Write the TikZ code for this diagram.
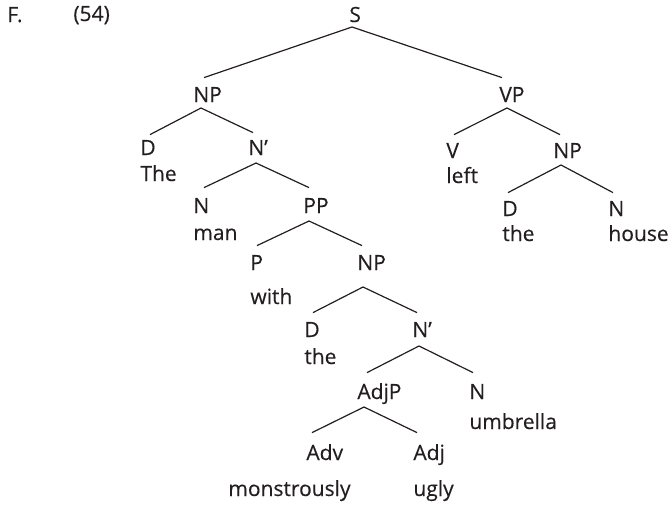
\documentclass[tikz,border=0pt]{standalone}
\usepackage{fontspec}
\setmainfont{Open Sans}[FakeBold=0.3]
\definecolor{ink}{RGB}{35,31,32}
\begin{document}
\begin{tikzpicture}[x=0.5pt,y=-0.5pt,
  lab/.style={anchor=base west, inner sep=0pt, text height=7.5pt, text depth=0pt,
    font=\fontsize{10.5}{12}\selectfont, text=ink},
  wrd/.style={anchor=base west, inner sep=0pt, font=\fontsize{10.5}{12}\selectfont, text=ink},
  br/.style={draw=ink, line width=0.6pt}]
\useasboundingbox (0,0) rectangle (668,504);
% header
\node[wrd] (F) at (7,22) {F.};
\node[wrd] (ex) at (73,21) {(54)};
% categories
\node[lab] (S) at (349,22) {S};
\node[lab] (NPa) at (193,102) {NP};
\node[lab] (VP) at (499,102) {VP};
\node[lab] (Da) at (140,155) {D};
\node[lab] (Nba) at (248,155) {N’};
\node[lab] (Na) at (193,213) {N};
\node[lab] (PP) at (303,213) {PP};
\node[lab] (P) at (250,270) {P};
\node[lab] (NPb) at (357,270) {NP};
\node[lab] (Db) at (304,337) {D};
\node[lab] (Nbb) at (412,337) {N’};
\node[lab] (AdjP) at (357,399) {AdjP};
\node[lab] (Nb) at (469,399) {N};
\node[lab] (Adv) at (306,460) {Adv};
\node[lab] (Adj) at (413,460) {Adj};
\node[lab] (V) at (446,158) {V};
\node[lab] (NPc) at (553,158) {NP};
\node[lab] (Dc) at (502,216) {D};
\node[lab] (Nc) at (608,216) {N};
% words
\node[wrd] (wThe) at (140,181) {The};
\node[wrd] (wman) at (193,240) {man};
\node[wrd] (wwith) at (250,304) {with};
\node[wrd] (wthea) at (304,364) {the};
\node[wrd] (wumb) at (469,429) {umbrella};
\node[wrd] (wmon) at (228,496) {monstrously};
\node[wrd] (wugly) at (413,496) {ugly};
\node[wrd] (wleft) at (446,183) {left};
\node[wrd] (wtheb) at (502,241) {the};
\node[wrd] (whouse) at (608,241) {house};
% branches
\draw[br] ([shift={(3,5)}]S.base west) -- ([shift={(11,-9)}]NPa.north west);
\draw[br] ([shift={(3,5)}]S.base west) -- ([shift={(3,-9)}]VP.north west);
\draw[br] ([shift={(8,6)}]NPa.base west) -- ([shift={(10,-5)}]Da.north west);
\draw[br] ([shift={(8,6)}]NPa.base west) -- ([shift={(5,-7)}]Nba.north west);
\draw[br] ([shift={(8,8)}]Nba.base west) -- ([shift={(11,-10)}]Na.north west);
\draw[br] ([shift={(8,8)}]Nba.base west) -- ([shift={(6,-10)}]PP.north west);
\draw[br] ([shift={(6,8)}]PP.base west) -- ([shift={(7,-9)}]P.north west);
\draw[br] ([shift={(6,8)}]PP.base west) -- ([shift={(5,-9)}]NPb.north west);
\draw[br] ([shift={(6,17)}]NPb.base west) -- ([shift={(9,-9)}]Db.north west);
\draw[br] ([shift={(6,17)}]NPb.base west) -- ([shift={(5,-9)}]Nbb.north west);
\draw[br] ([shift={(7,9)}]Nbb.base west) -- ([shift={(10,-11)}]AdjP.north west);
\draw[br] ([shift={(7,9)}]Nbb.base west) -- ([shift={(4,-11)}]Nb.north west);
\draw[br] ([shift={(7,8)}]AdjP.base west) -- ([shift={(6,-12)}]Adv.north west);
\draw[br] ([shift={(7,8)}]AdjP.base west) -- ([shift={(4,-12)}]Adj.north west);
\draw[br] ([shift={(8,6)}]VP.base west) -- ([shift={(8,-8)}]V.north west);
\draw[br] ([shift={(8,6)}]VP.base west) -- ([shift={(7,-8)}]NPc.north west);
\draw[br] ([shift={(8,7)}]NPc.base west) -- ([shift={(6,-8)}]Dc.north west);
\draw[br] ([shift={(8,7)}]NPc.base west) -- ([shift={(5,-8)}]Nc.north west);
\end{tikzpicture}
\end{document}
